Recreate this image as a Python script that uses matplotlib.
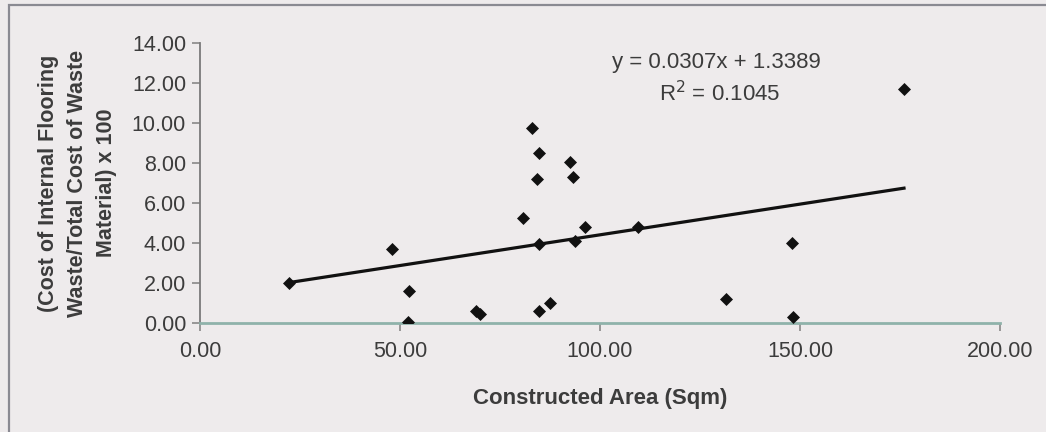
import matplotlib
matplotlib.use("Agg")
import matplotlib.pyplot as plt
from matplotlib.patches import Rectangle
import numpy as np

plt.rcParams['font.family'] = ['Liberation Sans', 'DejaVu Sans']

area = [22.2, 47.9, 52.2, 51.9, 69.0, 70.0, 82.9, 84.7, 84.3, 80.7, 84.7,
        84.7, 87.5, 92.5, 93.2, 93.7, 96.2, 109.6, 131.4, 147.9, 148.2, 176.0]
ratio = [2.02, 3.68, 1.60, 0.07, 0.60, 0.43, 9.77, 8.48, 7.20, 5.23, 3.93,
         0.60, 1.02, 8.07, 7.32, 4.12, 4.82, 4.82, 1.20, 4.02, 0.28, 11.68]
slope = 0.0307
intercept = 1.3389
r2 = 0.1045
xticks = [0, 50, 100, 150, 200]
yticks = [0, 2, 4, 6, 8, 10, 12, 14]

bg = '#eeebec'
txt = '#3c3c3c'
fig = plt.figure(figsize=(10.46, 4.32), dpi=100, facecolor=bg)
ax = fig.add_axes([200/1046, 1 - 323/432, 800/1046, 280/432])
ax.set_facecolor(bg)

# outer frame of the chart area
fig.patches.append(Rectangle((9/1046, -0.2), 1.2, 1 - 5/432 + 0.2,
                             transform=fig.transFigure, fill=False,
                             edgecolor='#8a8a92', linewidth=1.6, clip_on=False))

ax.scatter(area, ratio, marker='D', s=44, color='#111111', zorder=3, linewidths=0)
xs = np.array([min(area), max(area)])
ax.plot(xs, slope * xs + intercept, color='#111111', linewidth=2.3, zorder=2)

ax.set_xlim(0, 200)
ax.set_ylim(0, 14)
ax.set_xticks(xticks)
ax.set_yticks(yticks)
ax.set_xticklabels([f'{v:.2f}' for v in xticks])
ax.set_yticklabels([f'{v:.2f}' for v in yticks])
ax.tick_params(axis='both', direction='out', length=6, width=1.2, colors='#888888',
               labelcolor=txt, labelsize=15.5)
ax.tick_params(axis='y', pad=4)
ax.tick_params(axis='x', pad=7)

for s in ['top', 'right']:
    ax.spines[s].set_visible(False)
ax.spines['left'].set_color('#7a7a7a')
ax.spines['left'].set_linewidth(1.3)
ax.spines['bottom'].set_color('#8fb2aa')
ax.spines['bottom'].set_linewidth(2)

ax.set_xlabel('Constructed Area (Sqm)', fontsize=16, fontweight='bold', color=txt,
              labelpad=19)
ax.set_ylabel('(Cost of Internal Flooring\nWaste/Total Cost of Waste\nMaterial) x 100',
              fontsize=15.5, fontweight='bold', color=txt, labelpad=11, linespacing=1.48)

ax.text(0.646, 0.932, f'y = {slope}x + {intercept}', transform=ax.transAxes,
        ha='center', va='center', fontsize=16, color=txt)
ax.text(0.649, 0.82, f'R$^2$ = {r2}', transform=ax.transAxes,
        ha='center', va='center', fontsize=16, color=txt)

fig.savefig('out.png', dpi=100, facecolor=bg)
